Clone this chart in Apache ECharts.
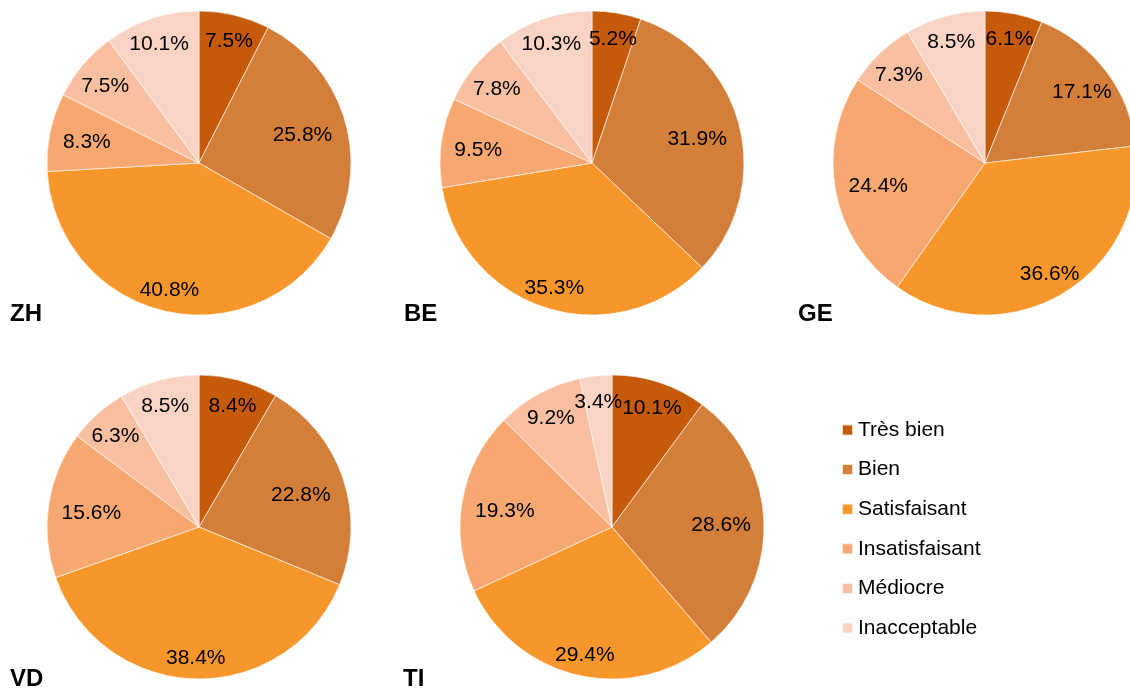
<!DOCTYPE html>
<html>
<head>
<meta charset="utf-8">
<script src="https://cdn.jsdelivr.net/npm/echarts@6/dist/echarts.min.js"></script>
<style>
  html, body { margin: 0; padding: 0; background: #fff; }
  #chart { width: 1130px; height: 690px; }
</style>
</head>
<body>
<div id="chart"></div>
<script>
// ---- data ----
const categories = ['Très bien', 'Bien', 'Satisfaisant', 'Insatisfaisant', 'Médiocre', 'Inacceptable'];
const cantons = ['ZH', 'BE', 'GE', 'VD', 'TI'];
const valuesZH = [7.5, 25.8, 40.8, 8.3, 7.5, 10.1];
const valuesBE = [5.2, 31.9, 35.3, 9.5, 7.8, 10.3];
const valuesGE = [6.1, 17.1, 36.6, 24.4, 7.3, 8.5];
const valuesVD = [8.4, 22.8, 38.4, 15.6, 6.3, 8.5];
const valuesTI = [10.1, 28.6, 29.4, 19.3, 9.2, 3.4];

// ---- layout / style ----
const colors = ['#C55A0A', '#D37F3A', '#F7962A', '#F6A870', '#F8BFA0', '#F9D4C4'];
const FONT = '"Liberation Sans", Arial, sans-serif';
const R = 152;
const LABEL_R = 139; // labels placed "inside end"
const LABEL_DY = 2.5;
const pieCenters = [[199, 163], [592, 163], [985, 163], [199, 527], [612, 527]];
const titlePos = [[10, 302], [404, 302], [798, 302], [10, 667], [403, 667]];
const allValues = [valuesZH, valuesBE, valuesGE, valuesVD, valuesTI];

const chart = echarts.init(document.getElementById('chart'), null, { renderer: 'canvas' });

const series = allValues.map((vals, i) => ({
  type: 'pie',
  name: cantons[i],
  center: pieCenters[i],
  radius: [0, R],
  startAngle: 90,
  clockwise: true,
  avoidLabelOverlap: false,
  silent: true,
  itemStyle: { borderColor: 'rgba(255,255,255,0.75)', borderWidth: 0.8 },
  label: {
    show: true,
    position: 'inside',
    color: '#000',
    fontFamily: FONT,
    fontSize: 21,
    lineHeight: 21,
    formatter: p => p.value.toFixed(1) + '%'
  },
  labelLine: { show: false },
  labelLayout: function (params) {
    const c = pieCenters[params.seriesIndex];
    const r = params.labelRect;
    const lx = r.x + r.width / 2, ly = r.y + r.height / 2;
    const dx = lx - c[0], dy = ly - c[1];
    const len = Math.hypot(dx, dy) || 1;
    const s = dx / len, co = dy / len;
    const ex = Math.abs(s) > 1e-6 ? (r.width / 2) / Math.abs(s) : Infinity;
    const ey = Math.abs(co) > 1e-6 ? (r.height / 2) / Math.abs(co) : Infinity;
    const d = LABEL_R - Math.min(ex, ey);
    return { x: c[0] + s * d, y: c[1] + co * d + LABEL_DY, hideOverlap: false };
  },
  emphasis: { disabled: true },
  data: categories.map((name, k) => ({ name: name, value: vals[k] }))
}));

const titles = cantons.map((t, i) => ({
  text: t,
  left: titlePos[i][0],
  top: titlePos[i][1],
  padding: 0,
  textStyle: { fontFamily: FONT, fontSize: 24, fontWeight: 'bold', color: '#000' }
}));

chart.setOption({
  animation: false,
  color: colors,
  title: titles,
  legend: {
    orient: 'vertical',
    left: 841,
    top: 419.5,
    padding: 0,
    itemWidth: 11,
    itemHeight: 11,
    itemGap: 18.6,
    icon: 'rect',
    selectedMode: false,
    data: categories,
    textStyle: { fontFamily: FONT, fontSize: 21, lineHeight: 21, color: '#000' }
  },
  series: series
});
</script>
</body>
</html>
